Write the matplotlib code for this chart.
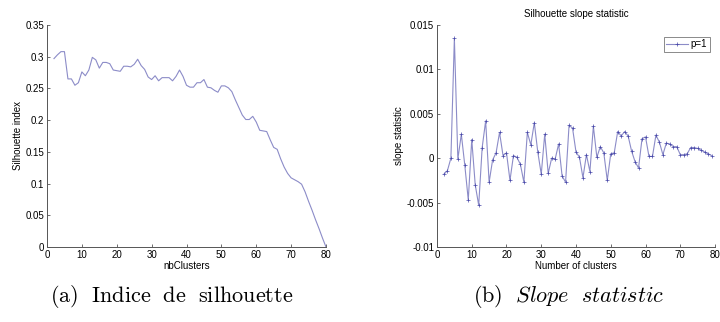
import matplotlib
matplotlib.use("Agg")
import matplotlib.pyplot as plt
import numpy as np

# silhouette index per number of clusters (2..80)
nb_clusters_a = list(range(2, 81))
silhouette = [0.297, 0.303, 0.308, 0.308, 0.265, 0.265, 0.255, 0.259, 0.276, 0.270,
              0.279, 0.299, 0.295, 0.282, 0.291, 0.291, 0.289, 0.279, 0.278, 0.277,
              0.285, 0.285, 0.284, 0.288, 0.296, 0.286, 0.280, 0.268, 0.264, 0.270,
              0.262, 0.267, 0.267, 0.267, 0.262, 0.269, 0.279, 0.269, 0.255, 0.252,
              0.252, 0.259, 0.259, 0.264, 0.252, 0.251, 0.247, 0.244, 0.254, 0.254,
              0.251, 0.245, 0.232, 0.220, 0.208, 0.201, 0.201, 0.206, 0.197, 0.184,
              0.183, 0.182, 0.169, 0.157, 0.154, 0.139, 0.126, 0.116, 0.109, 0.106,
              0.103, 0.099, 0.087, 0.072, 0.058, 0.043, 0.029, 0.014, 0.0]

# slope statistic (p=1) per number of clusters (2..79)
nb_clusters_b = list(range(2, 80))
slope = [-0.0018, -0.0014, 0.0, 0.0135, -0.0001, 0.0027, -0.0008, -0.0047, 0.0021, -0.0030,
         -0.0053, 0.0012, 0.0042, -0.0027, -0.0002, 0.0006, 0.0029, 0.0003, 0.0006, -0.0025,
         0.0003, 0.0001, -0.0007, -0.0027, 0.0029, 0.0015, 0.0040, 0.0007, -0.0018, 0.0027,
         -0.0017, 0.0, -0.0001, 0.0016, -0.0020, -0.0027, 0.0037, 0.0034, 0.0007, 0.0001,
         -0.0022, 0.0004, -0.0015, 0.0036, 0.0001, 0.0013, 0.0006, -0.0025, 0.0005, 0.0006,
         0.0030, 0.0025, 0.0030, 0.0025, 0.0008, -0.0004, -0.0011, 0.0022, 0.0024, 0.0002,
         0.0002, 0.0026, 0.0018, 0.0004, 0.0017, 0.0016, 0.0013, 0.0013, 0.0004, 0.0004,
         0.0005, 0.0012, 0.0012, 0.0011, 0.0009, 0.0007, 0.0005, 0.0003]

yticks_a = [0, 0.05, 0.1, 0.15, 0.2, 0.25, 0.3, 0.35]
yticklabels_a = ['0', '0.05', '0.1', '0.15', '0.2', '0.25', '0.3', '0.35']
yticks_b = [-0.01, -0.005, 0, 0.005, 0.01, 0.015]
yticklabels_b = ['-0.01', '-0.005', '0', '0.005', '0.01', '0.015']
xticks = [0, 10, 20, 30, 40, 50, 60, 70, 80]

plt.rcParams['font.family'] = ['Liberation Sans', 'DejaVu Sans']
plt.rcParams['mathtext.fontset'] = 'cm'

line_col = '#8c8cc8'
mark_col = '#4646a8'
tick_fs = 7


def style(ax):
    for s in ['top', 'right']:
        ax.spines[s].set_visible(False)
    for s in ['left', 'bottom']:
        ax.spines[s].set_color('#555555')
        ax.spines[s].set_linewidth(0.7)
    ax.tick_params(direction='in', length=2.5, width=0.6, color='#555555',
                   labelsize=tick_fs, pad=2)


fig = plt.figure(figsize=(7.2, 3.22), dpi=100)

ax1 = fig.add_axes([47 / 720, 1 - 247 / 322, 279 / 720, 222 / 322])
ax1.plot(nb_clusters_a, silhouette, color=line_col, lw=0.8)
ax1.set_xlim(0, 80)
ax1.set_ylim(0, 0.35)
ax1.set_xticks(xticks)
ax1.set_yticks(yticks_a)
ax1.set_yticklabels(yticklabels_a)
ax1.set_xlabel('nbClusters', fontsize=tick_fs, labelpad=1)
ax1.set_ylabel('Silhouette index', fontsize=tick_fs, labelpad=2)
style(ax1)

ax2 = fig.add_axes([437 / 720, 1 - 247 / 322, 278 / 720, 222 / 322])
ax2.plot(nb_clusters_b, slope, color=line_col, lw=0.8, marker='+', ms=3.5,
         mec=mark_col, mew=0.5, label='p=1')
ax2.set_xlim(0, 80)
ax2.set_ylim(-0.01, 0.015)
ax2.set_xticks(xticks)
ax2.set_yticks(yticks_b)
ax2.set_yticklabels(yticklabels_b)
ax2.set_xlabel('Number of clusters', fontsize=tick_fs, labelpad=1)
ax2.set_ylabel('slope statistic', fontsize=tick_fs, labelpad=2)
ax2.set_title('Silhouette slope statistic', fontsize=tick_fs, pad=6)
style(ax2)
leg = ax2.legend(loc='upper right', fontsize=tick_fs, handlelength=2.2,
                 borderpad=0.3, handletextpad=0.3, fancybox=False,
                 bbox_to_anchor=(1.0, 0.97))
leg.get_frame().set_edgecolor('#555555')
leg.get_frame().set_linewidth(0.6)

fig.text(172 / 720, 1 - 297 / 322, r'$\mathrm{(a)\ \ Indice\ \ de\ \ silhouette}$',
         ha='center', va='center', fontsize=16)
fig.text(569 / 720, 1 - 297 / 322, r'$\mathrm{(b)}\ \ \mathit{Slope\ \ statistic}$',
         ha='center', va='center', fontsize=16)

fig.savefig('out.png', dpi=100)
